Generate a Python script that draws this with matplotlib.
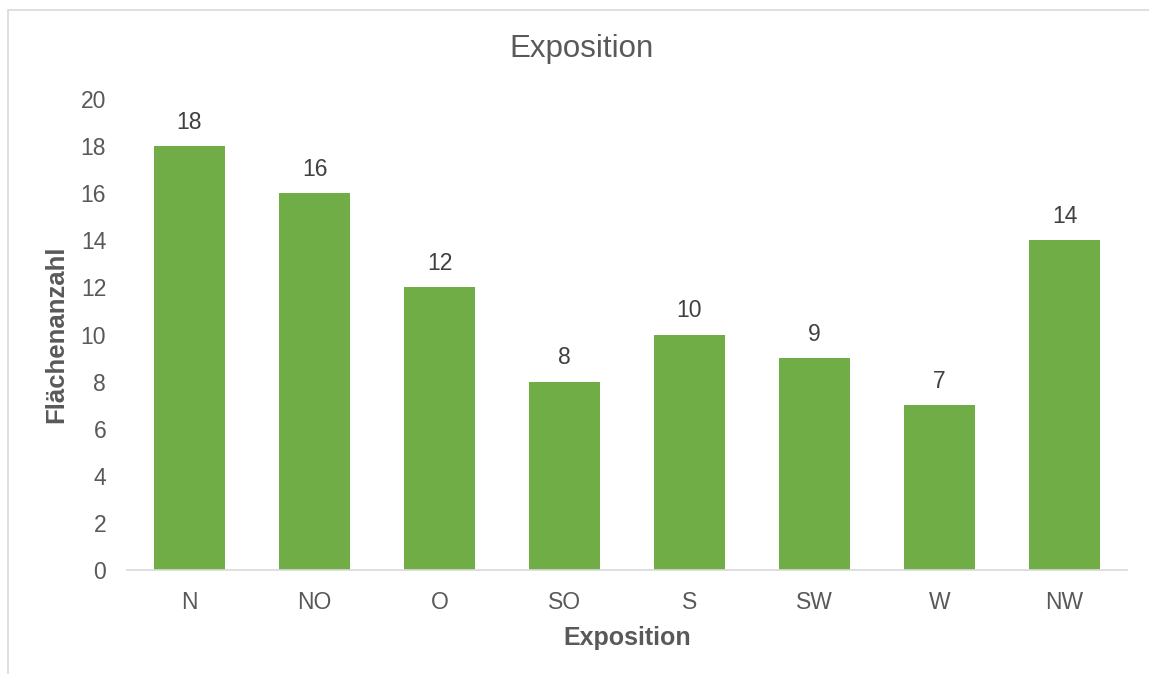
import matplotlib
matplotlib.use("Agg")
from matplotlib import pyplot as plt
from matplotlib import rcParams
from matplotlib.patches import Rectangle

rcParams["font.family"] = ["Liberation Sans", "DejaVu Sans"]

categories = ["N", "NO", "O", "SO", "S", "SW", "W", "NW"]
counts = [18, 16, 12, 8, 10, 9, 7, 14]
y_ticks = list(range(0, 21, 2))

TEXT = "#595959"
BAR = "#70AD47"
W, H = 1149, 674

fig = plt.figure(figsize=(W / 100, H / 100), dpi=100)
ax = fig.add_axes([127 / W, 1 - 570 / H, 1000 / W, 471 / H])

# chart border (cut off at right/bottom like the reference)
fig.patches.append(Rectangle((8 / W, -0.1), 1.2, 1 - 10 / H + 0.1, transform=fig.transFigure,
                             fill=False, edgecolor="#D9D9D9", linewidth=1.2))

x = range(len(categories))
ax.bar(x, counts, width=0.57, color=BAR)
for xi, v in zip(x, counts):
    ax.annotate(str(v), (xi, v), xytext=(0, 9), textcoords="offset points",
                ha="center", va="bottom", fontsize=16.5, color="#404040")

ax.set_xlim(-0.5, len(categories) - 0.5)
ax.set_ylim(0, 20)
ax.set_xticks(list(x))
ax.set_xticklabels(categories)
ax.set_yticks(y_ticks)
ax.tick_params(axis="both", length=0, labelsize=16.5, labelcolor=TEXT)
ax.tick_params(axis="x", pad=15)
ax.tick_params(axis="y", pad=15)

for s in ["top", "right", "left"]:
    ax.spines[s].set_visible(False)
ax.spines["bottom"].set_color("#D9D9D9")
ax.spines["bottom"].set_linewidth(1.2)

ax.set_xlabel("Exposition", fontsize=18, fontweight="bold", color=TEXT, labelpad=9)
ax.set_ylabel("Flächenanzahl", fontsize=18.5, fontweight="bold", color=TEXT, labelpad=9)
fig.text(582 / W, 1 - 49 / H, "Exposition", ha="center", va="center", fontsize=22.5, color=TEXT)

fig.savefig("out.png", dpi=100)
